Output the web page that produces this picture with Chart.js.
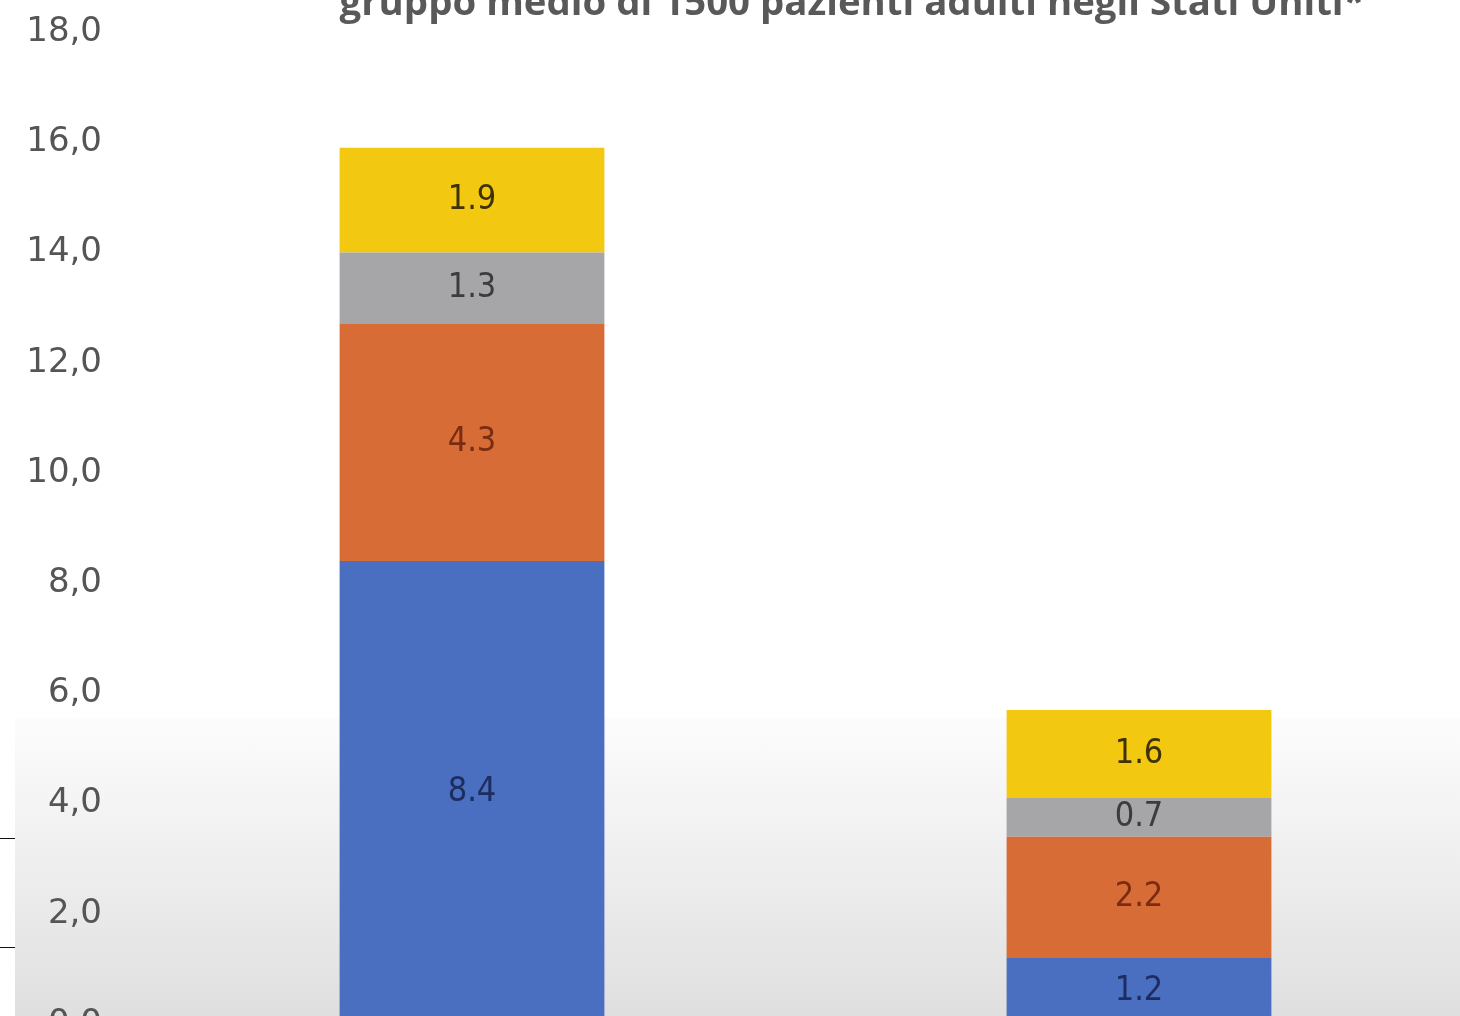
<!DOCTYPE html>
<html>
<head>
<meta charset="utf-8">
<script src="https://cdn.jsdelivr.net/npm/chart.js@4/dist/chart.umd.min.js"></script>
<style>
  html, body { margin: 0; padding: 0; background: #ffffff; overflow: hidden; width: 1460px; height: 1016px; }
  #shade { position: absolute; left: 15px; top: 718px; right: 0; bottom: 0;
           background: linear-gradient(#fcfcfc, #f1f1f1 40%, #dfdfdf); }
  .tick { position: absolute; left: 0; width: 15px; height: 1px; background: #111; }
  #chart { position: absolute; left: 0; top: -40px; }
</style>
</head>
<body>
<div id="shade"></div>
<div class="tick" style="top:838px"></div>
<div class="tick" style="top:947px"></div>
<canvas id="chart" width="1704" height="1121"></canvas>
<script>
// Values (bottom segment first)
const categories = ['Gruppo 1', 'Gruppo 2'];
const seriesBlue = [8.4, 1.2];
const seriesOrange = [4.3, 2.2];
const seriesGray = [1.3, 0.7];
const seriesYellow = [1.9, 1.6];
const titleText = 'gruppo medio di 1500 pazienti adulti negli Stati Uniti*';

// Colours for each segment and its label
const fills = ['#4a6ec0', '#d86c36', '#a6a6a8', '#f2c810'];
const labelColors = ['#1e2d60', '#7a2c12', '#3c3c3c', '#3d3200'];

// Value in the middle of each segment
const segmentLabels = {
    id: 'segmentLabels',
    afterDatasetsDraw(chart) {
        const ctx = chart.ctx;
        ctx.save();
        ctx.font = '34px "DejaVu Sans Condensed", "DejaVu Sans", sans-serif';
        ctx.textAlign = 'center';
        ctx.textBaseline = 'middle';
        chart.data.datasets.forEach((ds, i) => {
            const meta = chart.getDatasetMeta(i);
            ctx.fillStyle = labelColors[i];
            meta.data.forEach((bar, j) => {
                ctx.fillText(ds.data[j].toFixed(1), bar.x, (bar.y + bar.base) / 2);
            });
        });
        ctx.restore();
    }
};

// Title line (only its lower part is in view, the slide was cropped)
const titleLine = {
    id: 'titleLine',
    afterDraw(chart) {
        const ctx = chart.ctx;
        ctx.save();
        ctx.font = 'bold 37px "Open Sans", sans-serif';
        ctx.fillStyle = '#595959';
        ctx.textAlign = 'center';
        ctx.textBaseline = 'alphabetic';
        const w = ctx.measureText(titleText).width;
        ctx.translate(852, 55);
        ctx.scale(1025 / w, 1);
        ctx.fillText(titleText, 0, 0);
        ctx.restore();
    }
};

const seriesList = [seriesBlue, seriesOrange, seriesGray, seriesYellow];
const seriesNames = ['Serie 1', 'Serie 2', 'Serie 3', 'Serie 4'];

new Chart(document.getElementById('chart'), {
    type: 'bar',
    data: {
        labels: categories,
        datasets: seriesList.map((d, i) => ({
            label: seriesNames[i],
            data: d,
            backgroundColor: fills[i],
            borderWidth: 0,
            barPercentage: 0.397,
            categoryPercentage: 1
        }))
    },
    options: {
        responsive: false,
        animation: false,
        devicePixelRatio: 1,
        layout: { padding: { left: 0, right: 231.5, top: 72, bottom: 18.6 } },
        plugins: {
            legend: { display: false },
            tooltip: { enabled: false },
            title: { display: false }
        },
        scales: {
            x: { stacked: true, display: false },
            y: {
                stacked: true,
                min: 0,
                max: 18,
                ticks: {
                    stepSize: 2,
                    padding: 36.5,
                    color: '#555555',
                    font: { family: '"DejaVu Sans", sans-serif', size: 34 },
                    callback: v => v.toFixed(1).replace('.', ',')
                },
                grid: { display: false, drawTicks: false },
                border: { display: false },
                afterFit: s => { s.width = 138.5; }
            }
        }
    },
    plugins: [segmentLabels, titleLine]
});
</script>
</body>
</html>
